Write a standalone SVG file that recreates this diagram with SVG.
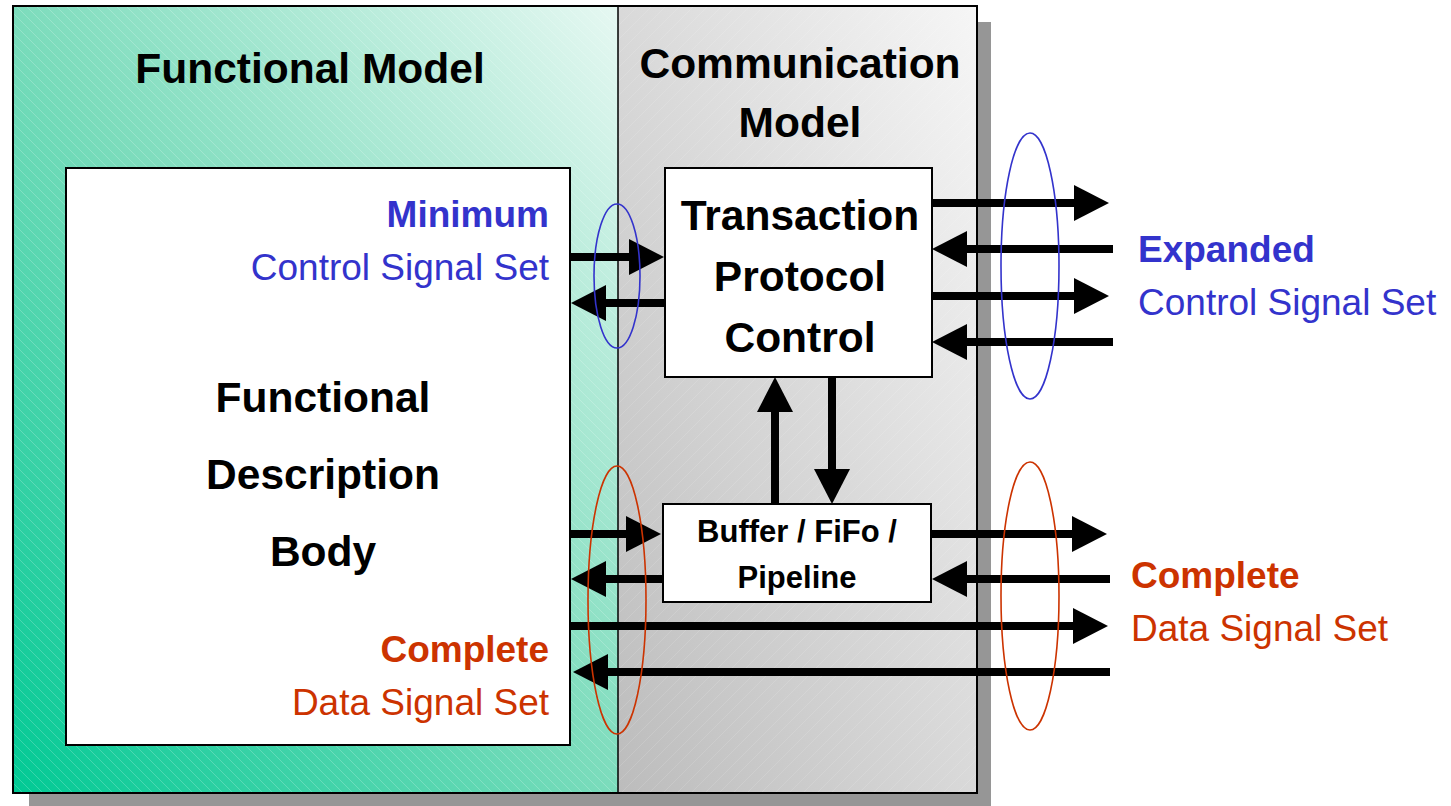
<svg xmlns="http://www.w3.org/2000/svg" width="1451" height="806" viewBox="0 0 1451 806">
<defs>
<linearGradient id="gGreen" x1="0" y1="1" x2="1" y2="0">
<stop offset="0" stop-color="#00c994"/>
<stop offset="0.5" stop-color="#7cdcbc"/>
<stop offset="1" stop-color="#e6f8f2"/>
</linearGradient>
<linearGradient id="gGray" x1="0" y1="1" x2="1" y2="0">
<stop offset="0" stop-color="#bcbcbc"/>
<stop offset="1" stop-color="#f6f6f6"/>
</linearGradient>
<pattern id="hatch" width="10" height="10" patternUnits="userSpaceOnUse">
<path d="M-1,-1 L11,11" stroke="#ffffff" stroke-opacity="0.25" stroke-width="0.8"/>
</pattern>
<pattern id="hatch2" width="14" height="14" patternUnits="userSpaceOnUse">
<path d="M15,-1 L-1,15" stroke="#ffffff" stroke-opacity="0.12" stroke-width="1"/>
</pattern>
<marker id="ah" viewBox="0 0 35 36" refX="0" refY="18" markerWidth="35" markerHeight="36" markerUnits="userSpaceOnUse" orient="auto">
<path d="M0,0 L35,18 L0,36 Z" fill="#000"/>
</marker>
</defs>
<style>
.sig{stroke:#000;stroke-width:8;fill:none;marker-end:url(#ah)}
.box{fill:#fff;stroke:#000;stroke-width:2}
.t{font-family:"Liberation Sans",Arial,sans-serif;font-weight:bold;fill:#000;text-anchor:middle}
.lbl{font-family:"Liberation Sans",Arial,sans-serif;font-size:37px}
.blue{fill:#3333cc}
.red{fill:#cc3300}
.b{font-weight:bold}
.ell{fill:none;stroke-width:1.6}
</style>
<rect width="1451" height="806" fill="#fff"/>
<g id="shadow"><rect x="29" y="22" width="962" height="790" fill="#969696"/></g>
<g id="functional-model">
<rect x="13" y="6" width="605" height="787" fill="url(#gGreen)"/>
<rect x="13" y="6" width="605" height="787" fill="url(#hatch)"/>
</g>
<g id="communication-model">
<rect x="618" y="6" width="359" height="787" fill="url(#gGray)"/>
<rect x="618" y="6" width="359" height="787" fill="url(#hatch2)"/>
</g>
<g id="frame">
<rect x="13" y="6" width="964" height="787" fill="none" stroke="#000" stroke-width="2"/>
<line x1="618" y1="6" x2="618" y2="793" stroke="#000" stroke-width="1.5"/>
</g>
<text class="t" x="310" y="83" font-size="42.5">Functional Model</text>
<text class="t" x="800" y="78" font-size="42.5">Communication</text>
<text class="t" x="800" y="137" font-size="42.5">Model</text>
<g id="functional-body">
<rect class="box" x="66" y="168" width="504" height="577"/>
<text class="t" x="323" y="412" font-size="42.5">Functional</text>
<text class="t" x="323" y="489" font-size="42.5">Description</text>
<text class="t" x="323" y="566" font-size="42.5">Body</text>
</g>
<g id="transaction">
<rect class="box" x="665" y="168" width="267" height="209"/>
<text class="t" x="800" y="230" font-size="42.5">Transaction</text>
<text class="t" x="800" y="291" font-size="42.5">Protocol</text>
<text class="t" x="800" y="352" font-size="42.5">Control</text>
</g>
<g id="buffer">
<rect class="box" x="663" y="504" width="268" height="98"/>
<text class="t" x="797" y="542" font-size="31">Buffer / FiFo /</text>
<text class="t" x="797" y="588" font-size="31">Pipeline</text>
</g>
<g id="connectors">
<path class="sig" d="M570,257 H629"/>
<path class="sig" d="M665,303 H606"/>
<path class="sig" d="M932,203 H1074"/>
<path class="sig" d="M1113,249 H967"/>
<path class="sig" d="M932,296 H1074"/>
<path class="sig" d="M1113,342 H967"/>
<path class="sig" d="M775,504 V412"/>
<path class="sig" d="M832,377 V469"/>
<path class="sig" d="M570,534 H626"/>
<path class="sig" d="M663,579 H606"/>
<path class="sig" d="M570,626 H1073"/>
<path class="sig" d="M1110,672 H608"/>
<path class="sig" d="M931,534 H1072"/>
<path class="sig" d="M1110,579 H967"/>
</g>
<g id="signal-sets">
<ellipse class="ell" cx="617" cy="276" rx="23" ry="72" stroke="#3333cc"/>
<ellipse class="ell" cx="1030" cy="266" rx="29" ry="133" stroke="#3333cc"/>
<ellipse class="ell" cx="617" cy="600" rx="29" ry="134" stroke="#cc3300"/>
<ellipse class="ell" cx="1030" cy="596" rx="29" ry="134" stroke="#cc3300"/>
</g>
<g id="labels">
<text class="lbl blue b" x="549" y="227" text-anchor="end">Minimum</text>
<text class="lbl blue" x="549" y="280" text-anchor="end">Control Signal Set</text>
<text class="lbl blue b" x="1138" y="262">Expanded</text>
<text class="lbl blue" x="1138" y="315">Control Signal Set</text>
<text class="lbl red b" x="1131" y="588">Complete</text>
<text class="lbl red" x="1131" y="641">Data Signal Set</text>
<text class="lbl red b" x="549" y="662" text-anchor="end">Complete</text>
<text class="lbl red" x="549" y="715" text-anchor="end">Data Signal Set</text>
</g>
</svg>
